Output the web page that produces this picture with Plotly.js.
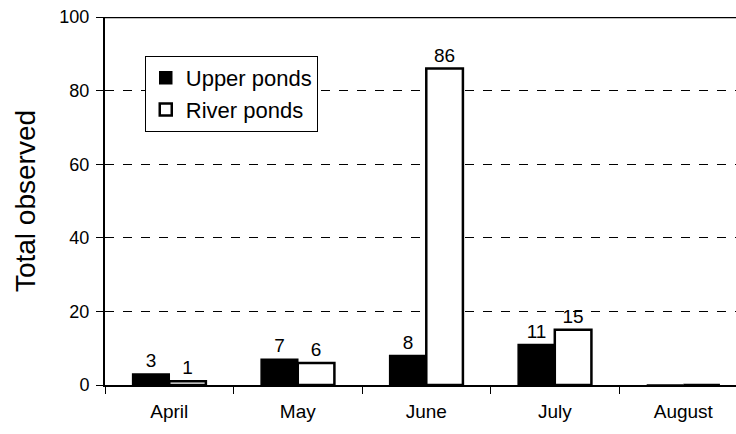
<!DOCTYPE html>
<html>
<head>
<meta charset="utf-8">
<script src="https://cdn.plot.ly/plotly-3.0.1.min.js"></script>
<style>html,body{margin:0;padding:0;background:#fff;}#chart{width:736px;height:434px;}</style>
</head>
<body>
<div id="chart"></div>
<script>
const months = ["April", "May", "June", "July", "August"];
const upperPonds = [3, 7, 8, 11, 0];
const riverPonds = [1, 6, 86, 15, 0];
const upperLabels = ["3", "7", "8", "11", ""];
const riverLabels = ["1", "6", "86", "15", ""];

const font = "Liberation Sans, Arial, Helvetica, sans-serif";

const traces = [
  {
    type: "bar", name: "Upper ponds", x: months, y: upperPonds,
    text: upperLabels, textposition: "outside", cliponaxis: false,
    textfont: {family: font, size: 19, color: "#000"},
    marker: {color: "#000", line: {color: "#000", width: 1.5}}
  },
  {
    type: "bar", name: "River ponds", x: months, y: riverPonds,
    text: riverLabels, textposition: "outside", cliponaxis: false,
    textfont: {family: font, size: 19, color: "#000"},
    marker: {color: "#fff", line: {color: "#000", width: 2.5}}
  }
];

const layout = {
  width: 736, height: 434,
  margin: {l: 105, r: 0, t: 17, b: 49},
  paper_bgcolor: "#fff", plot_bgcolor: "#fff",
  font: {family: font, color: "#000"},
  barmode: "group", bargap: 0.43, bargroupgap: 0,
  showlegend: true,
  legend: {
    x: 0.063, y: 0.894, xanchor: "left", yanchor: "top",
    bordercolor: "#000", borderwidth: 1, bgcolor: "#fff",
    font: {family: font, size: 22, color: "#000"},
    traceorder: "normal", itemwidth: 30
  },
  xaxis: {
    type: "category", range: [-0.5, 4.41],
    tickson: "boundaries", ticks: "outside", ticklen: 7, tickcolor: "#000",
    showline: true, linecolor: "#000", linewidth: 2,
    showgrid: false, zeroline: false,
    tickfont: {family: font, size: 19, color: "#000"},
    ticklabelstandoff: 8,
    fixedrange: true
  },
  yaxis: {
    range: [0, 100], tickvals: [0, 20, 40, 60, 80, 100],
    ticks: "outside", ticklen: 7, tickcolor: "#000",
    showline: true, linecolor: "#000", linewidth: 2,
    showgrid: true, gridcolor: "#000", griddash: "dash", gridwidth: 1,
    zeroline: false,
    tickfont: {family: font, size: 18, color: "#000"},
    ticklabelstandoff: 3,
    title: {text: "Total observed", font: {family: font, size: 28, color: "#000"}, standoff: 16},
    fixedrange: true
  },
  shapes: [
    {type: "line", xref: "paper", yref: "y", x0: 0, x1: 1, y0: 100, y1: 100,
     line: {color: "#000", width: 2.5}}
  ]
};

Plotly.newPlot("chart", traces, layout, {displayModeBar: false, staticPlot: true});
</script>
</body>
</html>
